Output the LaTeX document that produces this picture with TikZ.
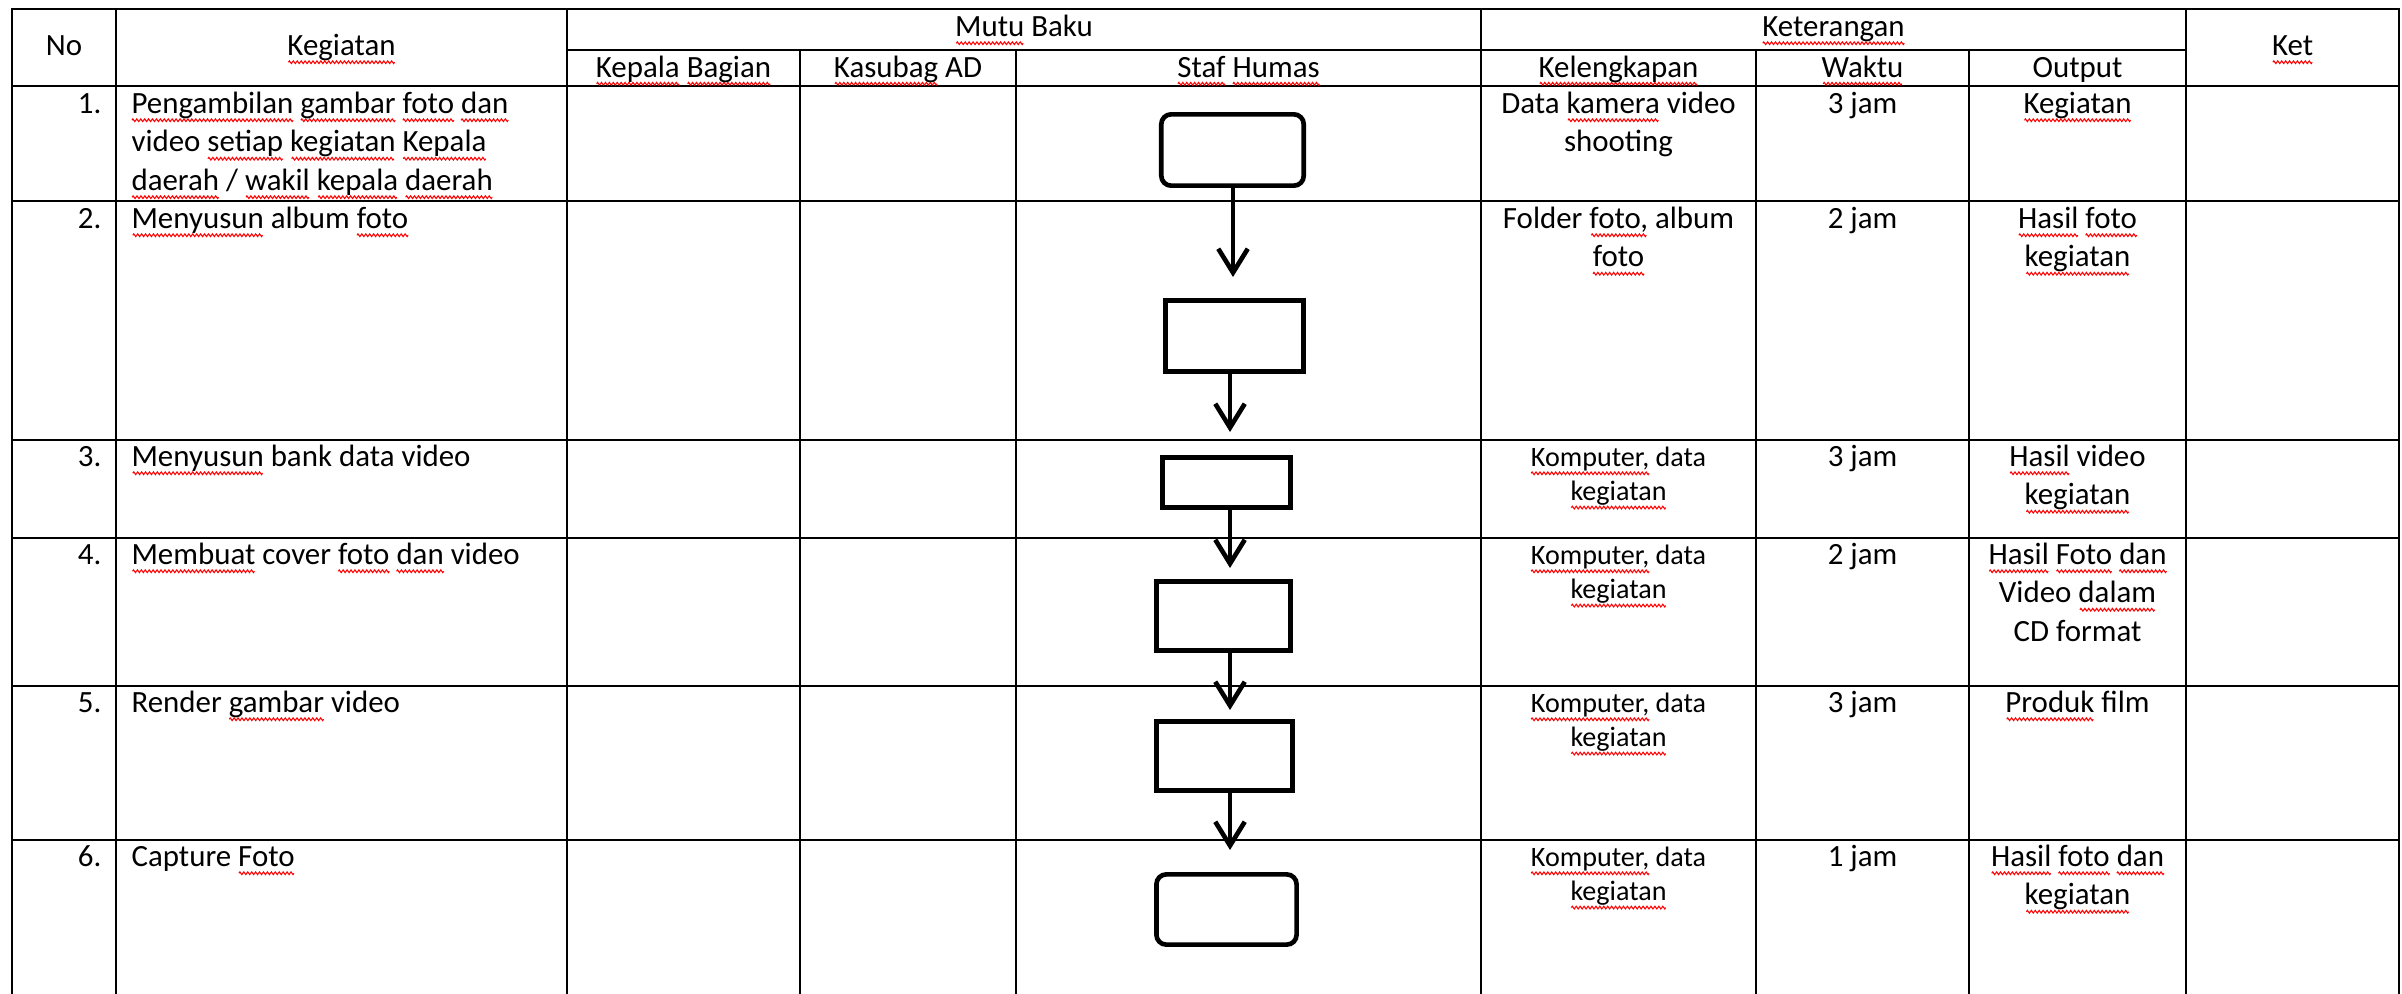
\documentclass[tikz,border=0pt]{standalone}
\usepackage{fontspec}
\setmainfont{Carlito}
\usetikzlibrary{arrows.meta}

\newcommand{\cellfont}{\fontsize{11pt}{13.7pt}\selectfont}
\newcommand{\smallfont}{\fontsize{10pt}{12.2pt}\selectfont}
% red spell-check wave under a word
\newsavebox{\wavebox}
\newsavebox{\wordbox}
\newcommand{\wavemark}{\begin{pgfpicture}
	\pgfsetbaseline{0pt}
	\pgfpathrectangle{\pgfpoint{0pt}{-0.5pt}}{\pgfpoint{1.4pt}{1pt}}\pgfusepath{use as bounding box}
	\pgfsetlinewidth{0.38pt}\pgfsetstrokecolor{red}
	\pgfpathmoveto{\pgfpoint{0pt}{0pt}}\pgfpathlineto{\pgfpoint{0.35pt}{0.48pt}}
	\pgfpathlineto{\pgfpoint{1.05pt}{-0.48pt}}\pgfpathlineto{\pgfpoint{1.4pt}{0pt}}
	\pgfusepath{stroke}
\end{pgfpicture}}
\newcommand{\sq}[1]{\sbox{\wordbox}{#1}\rlap{\lower2.4pt\hbox to \wd\wordbox{\cleaders\copy\wavebox\hfill}}\usebox{\wordbox}}

\tikzset{
	tabline/.style={line width=0.6pt, line cap=rect},
	hdtext/.style={font=\cellfont, anchor=base, inner sep=0pt},
	numtext/.style={font=\cellfont, anchor=base east, inner sep=0pt},
	cellc/.style={font=\cellfont, anchor=north, align=center, inner sep=0pt},
	celll/.style={font=\cellfont, anchor=north west, align=left, inner sep=0pt},
	cellsmall/.style={font=\smallfont, anchor=north, align=center, inner sep=0pt},
	stepbox/.style={draw, line width=1.65pt, inner sep=0pt},
	roundbox/.style={stepbox, rounded corners=3.5pt},
	flow/.style={-{Straight Barb[length=8.5pt, width=10.5pt]}, line width=1.65pt, line cap=round, line join=round},
}

\begin{document}
\sbox{\wavebox}{\wavemark}%
\begin{tikzpicture}[x=0.356pt, y=-0.356pt]
	\useasboundingbox (0,0) rectangle (2402,993);

	% table rules
	\draw[tabline] (12,9) -- (2399,9);
	\draw[tabline] (567,50) -- (2186,50);
	\foreach \y in {86,201,440,538,686,840}
		\draw[tabline] (12,\y) -- (2399,\y);
	\foreach \x in {12,116,567,1481,2186,2399}
		\draw[tabline] (\x,9) -- (\x,993);
	\foreach \x in {800,1016,1756,1969}
		\draw[tabline] (\x,50) -- (\x,993);

	% header
	\node[hdtext] (hno) at (64,55.5) {No};
	\node[hdtext] (hkg) at (341.5,55.5) {\sq{Kegiatan}};
	\node[hdtext] (hmb) at (1024,36.5) {\sq{Mutu} Baku};
	\node[hdtext] (hkt) at (1833.5,36.5) {\sq{Keterangan}};
	\node[hdtext] (hket) at (2292.5,55.5) {\sq{Ket}};
	\node[hdtext] (hkb) at (683.5,77) {\sq{Kepala} \sq{Bagian}};
	\node[hdtext] (hks) at (908,77) {\sq{Kasubag} AD};
	\node[hdtext] (hsh) at (1248.5,77) {\sq{Staf} \sq{Humas}};
	\node[hdtext] (hkl) at (1618.5,77) {\sq{Kelengkapan}};
	\node[hdtext] (hwk) at (1862.5,77) {\sq{Waktu}};
	\node[hdtext] (hop) at (2077.5,77) {Output};

	% row 1
	\node[numtext] (no1) at (102,113) {1.};
	\node[celll] (kg1) at (131,86) {\strut\sq{Pengambilan} \sq{gambar} \sq{foto} \sq{dan}\\video \sq{setiap} \sq{kegiatan} \sq{Kepala}\\\sq{daerah} / \sq{wakil} \sq{kepala} \sq{daerah}};
	\node[cellc] (kl1) at (1618.5,86) {\strut Data \sq{kamera} video\\shooting};
	\node[cellc] (wk1) at (1862.5,86) {\strut 3 jam};
	\node[cellc] (op1) at (2077.5,86) {\strut\sq{Kegiatan}};

	% row 2
	\node[numtext] (no2) at (102,228) {2.};
	\node[celll] (kg2) at (131,201) {\strut\sq{Menyusun} album \sq{foto}};
	\node[cellc] (kl2) at (1618.5,201) {\strut Folder \sq{foto,} album\\\sq{foto}};
	\node[cellc] (wk2) at (1862.5,201) {\strut 2 jam};
	\node[cellc] (op2) at (2077.5,201) {\strut\sq{Hasil} \sq{foto}\\\sq{kegiatan}};

	% row 3
	\node[numtext] (no3) at (102,466) {3.};
	\node[celll] (kg3) at (131,439) {\strut\sq{Menyusun} bank data video};
	\node[cellsmall] (kl3) at (1618.5,442) {\strut\sq{Komputer,} data\\\sq{kegiatan}};
	\node[cellc] (wk3) at (1862.5,439) {\strut 3 jam};
	\node[cellc] (op3) at (2077.5,439) {\strut\sq{Hasil} video\\\sq{kegiatan}};

	% row 4
	\node[numtext] (no4) at (102,564) {4.};
	\node[celll] (kg4) at (131,537) {\strut\sq{Membuat} cover \sq{foto} \sq{dan} video};
	\node[cellsmall] (kl4) at (1618.5,540) {\strut\sq{Komputer,} data\\\sq{kegiatan}};
	\node[cellc] (wk4) at (1862.5,537) {\strut 2 jam};
	\node[cellc] (op4) at (2077.5,537) {\strut\sq{Hasil} \sq{Foto} \sq{dan}\\Video \sq{dalam}\\CD format};

	% row 5
	\node[numtext] (no5) at (102,712) {5.};
	\node[celll] (kg5) at (131,685) {\strut Render \sq{gambar} video};
	\node[cellsmall] (kl5) at (1618.5,688) {\strut\sq{Komputer,} data\\\sq{kegiatan}};
	\node[cellc] (wk5) at (1862.5,685) {\strut 3 jam};
	\node[cellc] (op5) at (2077.5,685) {\strut\sq{Produk} film};

	% row 6
	\node[numtext] (no6) at (102,866) {6.};
	\node[celll] (kg6) at (131,839) {\strut Capture \sq{Foto}};
	\node[cellsmall] (kl6) at (1618.5,842) {\strut\sq{Komputer,} data\\\sq{kegiatan}};
	\node[cellc] (wk6) at (1862.5,839) {\strut 1 jam};
	\node[cellc] (op6) at (2077.5,839) {\strut\sq{Hasil} \sq{foto} \sq{dan}\\\sq{kegiatan}};

	% flow in the Staf Humas lane
	\node[roundbox, minimum width=50.7pt, minimum height=25.4pt] (s1) at (1232.5,150) {};
	\node[stepbox, minimum width=49.2pt, minimum height=25.4pt] (s2) at (1234.5,336) {};
	\node[stepbox, minimum width=45.7pt, minimum height=17.9pt] (s3) at (1226.5,482.5) {};
	\node[stepbox, minimum width=47.8pt, minimum height=24.7pt] (s4) at (1223.5,616) {};
	\node[stepbox, minimum width=48.5pt, minimum height=24.7pt] (s5) at (1224.5,756) {};
	\node[roundbox, minimum width=49.9pt, minimum height=25pt] (s6) at (1226.5,909.5) {};

	\coordinate (t1) at (1233,277);
	\coordinate (t2) at (1230,432);
	\coordinate (t3) at (1230,568);
	\coordinate (t4) at (1230,710);
	\coordinate (t5) at (1230,850);

	\draw[flow] (s1.south -| t1) -- (t1);
	\draw[flow] (s2.south -| t2) -- (t2);
	\draw[flow] (s3.south -| t3) -- (t3);
	\draw[flow] (s4.south -| t4) -- (t4);
	\draw[flow] (s5.south -| t5) -- (t5);
\end{tikzpicture}
\end{document}
